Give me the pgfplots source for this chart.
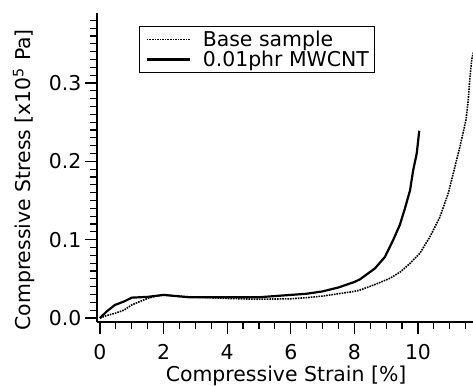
\documentclass[border=0pt]{standalone}
\usepackage{pgfplots}
\pgfplotsset{compat=1.18}
\usepackage{fontspec}
\setmainfont{DejaVu Sans}
\newcommand{\ff}{\fontsize{20.5}{24}\selectfont}
\begin{document}
\begin{tikzpicture}[x=1bp,y=1bp]
\path[use as bounding box] (-97,-63) rectangle (376,322);
\begin{axis}[
  at={(0,0)}, anchor=south west,
  scale only axis, width=376bp, height=309bp,
  xmin=-0.094, xmax=11.73, ymin=-0.0051, ymax=0.3894,
  axis x line*=bottom, axis y line*=left,
  axis line style={-, line width=1.4bp},
  tick align=outside,
  major tick length=12bp, minor tick length=7bp,
  every tick/.style={black, line width=1.2bp},
  xtick={0,2,4,6,8,10}, minor xtick={0.5,1,...,11.5},
  ytick={0,0.1,0.2,0.3}, minor ytick={0.01,0.02,...,0.39},
  yticklabels={0.0,0.1,0.2,0.3},
  xticklabels={0,2,4,6,8,10},
  tick label style={font=\ff},
  xticklabel style={yshift=-9bp, inner sep=1bp},
  /pgf/number format/assume math mode=true,
  xlabel={Compressive Strain [\%]},
  ylabel={Compressive Stress [x10\textsuperscript{5} Pa]},
  label style={font=\ff},
  xlabel style={at={(axis description cs:0.503,-0.193)}, anchor=base, inner sep=1bp},
  ylabel style={at={(axis description cs:-0.194,0.46)}, anchor=center},
  legend image code/.code={\draw[#1] (0bp,0bp) -- (43bp,0bp);},
  legend style={at={(axis description cs:0.112,0.958)}, anchor=north west,
    font=\ff, draw=black, line width=1bp, inner xsep=6bp, inner ysep=4.5bp,
    row sep=3bp, nodes={inner sep=0pt},
    /tikz/every odd column/.append style={column sep=12bp},
    cells={anchor=west}},
  clip=true,
]
\addplot[black, densely dotted, line width=1.6bp] coordinates {
(0,0) (0.2,0.003) (0.47,0.006) (0.75,0.010) (1.0,0.0167) (1.25,0.021) (1.5,0.025)
(1.75,0.028) (2.0,0.0295) (2.4,0.028) (2.8,0.027) (3.5,0.026) (4,0.025) (4.9,0.024)
(6,0.0245) (6.5,0.026) (7,0.028) (7.5,0.031) (8,0.034) (8.18,0.0358) (8.6,0.042)
(9.12,0.0507) (9.45,0.059) (9.75,0.0698) (10.06,0.0826) (10.38,0.104) (10.69,0.129)
(10.95,0.159) (11.16,0.193) (11.32,0.219) (11.51,0.253) (11.58,0.278) (11.63,0.305)
(11.69,0.33) (11.75,0.34)
};
\addlegendentry{Base sample}
\addplot[black, line width=2.2bp] coordinates {
(0,0) (0.2,0.008) (0.47,0.0167) (0.75,0.021) (1.0,0.026) (1.5,0.027) (2.0,0.0295)
(2.4,0.028) (2.8,0.0265) (4,0.0265) (5,0.0265) (6,0.0295) (6.5,0.031) (7,0.034)
(7.5,0.039) (8.0,0.046) (8.18,0.0495) (8.65,0.0635) (8.96,0.078) (9.22,0.0996)
(9.43,0.119) (9.59,0.14) (9.75,0.163) (9.85,0.189) (9.96,0.21) (10.04,0.239)
};
\addlegendentry{0.01phr MWCNT}
\end{axis}
\end{tikzpicture}
\end{document}
